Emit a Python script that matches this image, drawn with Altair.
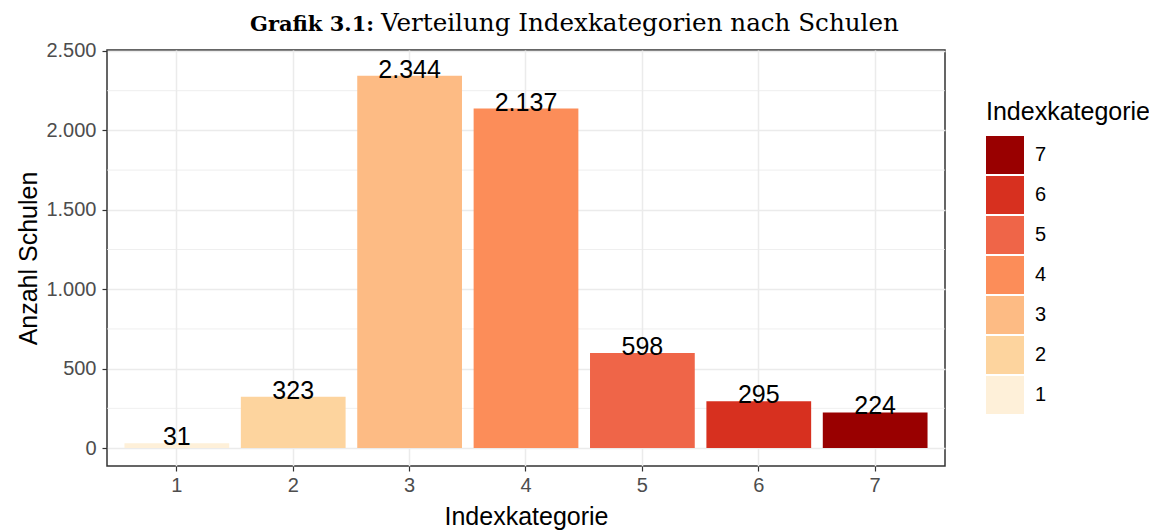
import altair as alt
import pandas as pd

# Data
kategorien = ["1", "2", "3", "4", "5", "6", "7"]
anzahl = [31, 323, 2344, 2137, 598, 295, 224]
farben = ["#fef0d9", "#fdd49e", "#fdbb84", "#fc8d59", "#ef6548", "#d7301f", "#990000"]
minor_ticks = [250, 750, 1250, 1750, 2250]
major_ticks = [0, 500, 1000, 1500, 2000, 2500]
titel_fett = "Grafik 3.1:"
titel_text = "Verteilung Indexkategorien nach Schulen"

df = pd.DataFrame({"kat": kategorien, "n": anzahl})
df_minor = pd.DataFrame({"v": minor_ticks})

SANS = "Liberation Sans"
SERIF = "DejaVu Serif"

y_scale = alt.Scale(domain=[-113, 2506], nice=False, zero=False)
x_scale = alt.Scale(domain=kategorien, paddingInner=0.1, paddingOuter=0.15)

base = alt.Chart(df)

minor = alt.Chart(df_minor).mark_rule(color="#EBEBEB", strokeWidth=0.8).encode(
    y=alt.Y("v:Q", scale=y_scale)
)

bars = base.mark_bar().encode(
    x=alt.X(
        "kat:N",
        scale=x_scale,
        sort=kategorien,
        axis=alt.Axis(
            title="Indexkategorie",
            labelAngle=0,
            labelFont=SANS,
            labelFontSize=20,
            labelColor="#4D4D4D",
            labelPadding=4,
            tickSize=5,
            tickColor="#333333",
            tickWidth=1.2,
            domain=False,
            grid=True,
            gridColor="#EBEBEB",
            gridWidth=1.5,
            titleFont=SANS,
            titleFontSize=25,
            titleFontWeight="normal",
            titleColor="black",
            titlePadding=9,
        ),
    ),
    y=alt.Y(
        "n:Q",
        scale=y_scale,
        axis=alt.Axis(
            title="Anzahl Schulen",
            values=major_ticks,
            labelExpr="replace(format(datum.value, ','), ',', '.')",
            labelFont=SANS,
            labelFontSize=20,
            labelColor="#4D4D4D",
            labelPadding=6,
            tickSize=5,
            tickColor="#333333",
            tickWidth=1.2,
            domain=False,
            grid=True,
            gridColor="#EBEBEB",
            gridWidth=1.5,
            titleFont=SANS,
            titleFontSize=25,
            titleFontWeight="normal",
            titleColor="black",
            titlePadding=4,
        ),
    ),
    color=alt.Color(
        "kat:N",
        scale=alt.Scale(domain=kategorien[::-1], range=farben[::-1]),
        legend=alt.Legend(
            title="Indexkategorie",
            orient="none",
            legendX=879,
            legendY=50,
            symbolType="square",
            symbolSize=1444,
            symbolStrokeWidth=0,
            symbolOpacity=1,
            rowPadding=2,
            labelOffset=11,
            labelFont=SANS,
            labelFontSize=20,
            labelColor="black",
            titleFont=SANS,
            titleFontSize=25,
            titleFontWeight="normal",
            titleColor="black",
            titlePadding=11,
            padding=0,
        ),
    ),
)

labels = base.transform_calculate(
    lab="replace(format(datum.n, ','), ',', '.')"
).mark_text(font=SANS, fontSize=25, color="black", baseline="alphabetic", dy=2).encode(
    x=alt.X("kat:N", scale=x_scale, sort=kategorien),
    y=alt.Y("n:Q", scale=y_scale),
    text="lab:N",
)

t1 = alt.Chart(pd.DataFrame({"t": [titel_fett]})).mark_text(
    font=SERIF, fontSize=21, fontWeight="bold", align="right", baseline="alphabetic", color="black"
).encode(x=alt.value(267), y=alt.value(-19), text="t:N")

t2 = alt.Chart(pd.DataFrame({"t": [titel_text]})).mark_text(
    font=SERIF, fontSize=24.6, align="left", baseline="alphabetic", color="black"
).encode(x=alt.value(274), y=alt.value(-19), text="t:N")

chart = (
    alt.layer(minor, bars, labels, t1, t2)
    .properties(
        width=838,
        height=416,
        autosize=alt.AutoSizeParams(type="none"),
        padding={"left": 99, "top": 42, "right": 204, "bottom": 64},
    )
    .configure_view(stroke="#333333", strokeWidth=1.5)
)

chart.save("out.html", embed_options={"renderer": "svg", "actions": False})
